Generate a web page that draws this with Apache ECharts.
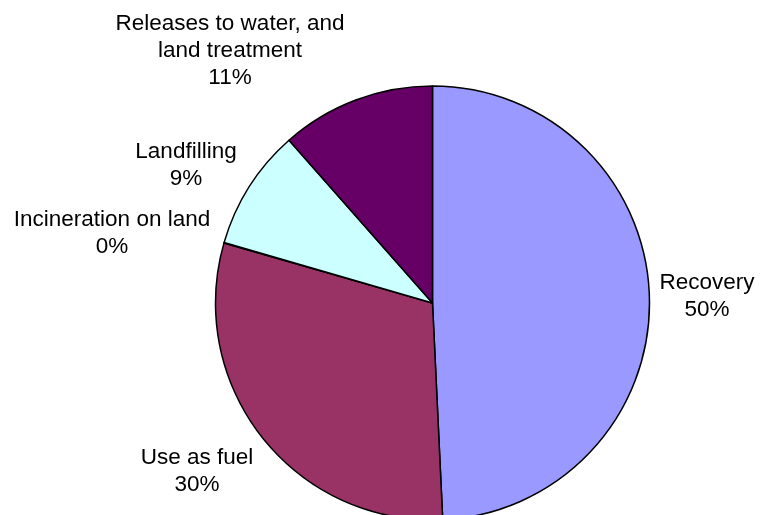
<!DOCTYPE html>
<html>
<head>
<meta charset="utf-8">
<script src="https://cdn.jsdelivr.net/npm/echarts@6/dist/echarts.min.js"></script>
<style>
html,body{margin:0;padding:0;background:#fff;}
#c{width:771px;height:515px;}
</style>
</head>
<body>
<div id="c"></div>
<script>
// Data (shares of total)
const categories = ['Recovery', 'Use as fuel', 'Incineration on land', 'Landfilling', 'Releases to water, and\nland treatment'];
const values = [49.25, 30.2, 0.05, 9.0, 11.5];
// Percent labels as printed in the picture
const pctLabels = ['50%', '30%', '0%', '9%', '11%'];
const colors = ['#9999FF', '#993366', '#FFFFCC', '#CCFFFF', '#660066'];
// Label block centres (text placement, not marks)
const labelPos = [[707, 296], [197, 471], [112, 233], [186, 165], [230, 51]];

const chart = echarts.init(document.getElementById('c'), null, {renderer: 'canvas'});
chart.setOption({
  backgroundColor: '#ffffff',
  animation: false,
  series: [{
    type: 'pie',
    center: [432.5, 303],
    radius: 217,
    startAngle: 90,
    clockwise: true,
    avoidLabelOverlap: false,
    data: categories.map((n, i) => ({name: n, value: values[i], itemStyle: {color: colors[i]}})),
    itemStyle: {borderColor: '#000', borderWidth: 1.5},
    emphasis: {disabled: true},
    label: {
      show: true,
      position: 'outside',
      formatter: p => p.name + '\n' + pctLabels[p.dataIndex],
      fontFamily: 'Liberation Sans, Arial, sans-serif',
      fontSize: 22.5,
      lineHeight: 27,
      color: '#000',
      align: 'center'
    },
    labelLine: {show: false},
    labelLayout: function (params) {
      const p = labelPos[params.dataIndex];
      return {x: p[0], y: p[1], align: 'center', verticalAlign: 'middle'};
    }
  }]
});
</script>
</body>
</html>
